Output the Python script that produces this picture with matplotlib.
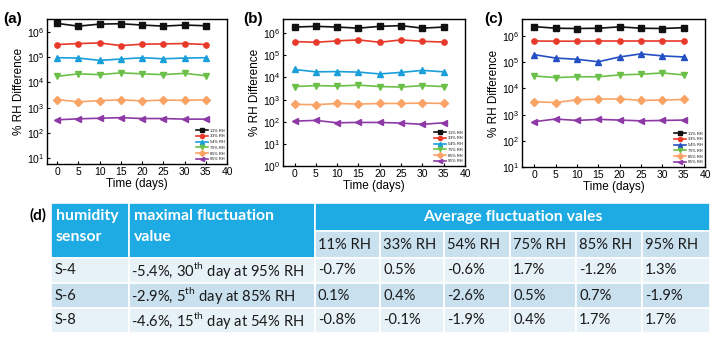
import numpy as np
import matplotlib.pyplot as plt
from matplotlib.patches import Rectangle

plt.rcParams['font.family'] = ['Liberation Sans', 'DejaVu Sans']
plt.rcParams['mathtext.fontset'] = 'custom'
plt.rcParams['mathtext.rm'] = 'Lato'

days = [0, 5, 10, 15, 20, 25, 30, 35]
labels = ['11% RH', '33% RH', '54% RH', '75% RH', '85% RH', '95% RH']

# S-4 sensor
a_11 = [2.2e6, 1.72e6, 2.07e6, 2.14e6, 1.9e6, 1.72e6, 1.9e6, 1.78e6]
a_33 = [3.2e5, 3.5e5, 3.7e5, 2.9e5, 3.3e5, 3.4e5, 3.5e5, 3.2e5]
a_54 = [9.6e4, 9.3e4, 7.5e4, 8.5e4, 9.6e4, 8.7e4, 9.3e4, 9.6e4]
a_75 = [1.75e4, 2.2e4, 2.05e4, 2.4e4, 2.2e4, 2.05e4, 2.3e4, 1.85e4]
a_85 = [2.1e3, 1.7e3, 1.9e3, 2.05e3, 1.85e3, 2.0e3, 1.95e3, 2.05e3]
a_95 = [330, 360, 380, 400, 370, 370, 350, 350]

# S-6 sensor
b_11 = [1.9e6, 2.05e6, 1.9e6, 1.7e6, 2.05e6, 2.2e6, 1.7e6, 1.9e6]
b_33 = [4.2e5, 3.9e5, 4.5e5, 5.0e5, 3.9e5, 5.0e5, 4.3e5, 4.0e5]
b_54 = [2.3e4, 1.8e4, 1.85e4, 1.75e4, 1.45e4, 1.7e4, 2.1e4, 1.8e4]
b_75 = [3.9e3, 4.3e3, 4.1e3, 4.5e3, 3.9e3, 3.7e3, 4.3e3, 3.9e3]
b_85 = [610, 590, 670, 630, 670, 670, 700, 670]
b_95 = [107, 115, 90, 93, 93, 87, 76, 90]

# S-8 sensor
c_11 = [2.3e6, 2.0e6, 1.95e6, 2.0e6, 2.25e6, 2.0e6, 1.95e6, 2.1e6]
c_33 = [6.5e5, 6.4e5, 6.4e5, 6.5e5, 6.5e5, 6.5e5, 6.5e5, 6.5e5]
c_54 = [1.95e5, 1.45e5, 1.3e5, 1.05e5, 1.6e5, 2.1e5, 1.75e5, 1.6e5]
c_75 = [3.0e4, 2.6e4, 2.8e4, 2.8e4, 3.3e4, 3.5e4, 3.9e4, 3.3e4]
c_85 = [3.1e3, 2.9e3, 3.7e3, 3.9e3, 4.0e3, 3.5e3, 3.6e3, 3.8e3]
c_95 = [540, 680, 600, 660, 620, 580, 600, 620]

# table (d)
sensors = ['S-4', 'S-6', 'S-8']
max_fluct = ['-5.4%, 30$^{\\rm th}$ day at 95% RH',
             '-2.9%, 5$^{\\rm th}$ day at 85% RH',
             '-4.6%, 15$^{\\rm th}$ day at 54% RH']
avg_fluct = [['-0.7%', '0.5%', '-0.6%', '1.7%', '-1.2%', '1.3%'],
             ['0.1%', '0.4%', '-2.6%', '0.5%', '0.7%', '-1.9%'],
             ['-0.8%', '-0.1%', '-1.9%', '0.4%', '1.7%', '1.7%']]

W, H = 726, 343
fig = plt.figure(figsize=(W / 100, H / 100), dpi=100)

def px_axes(l, t, r, b):
    return fig.add_axes([l / W, 1 - b / H, (r - l) / W, (b - t) / H])

markers = ['s', 'o', '^', 'v', 'D', '<']
cols_ab = ['#111111', '#e8392a', '#1a9fd9', '#6cc04a', '#f9a466', '#8e3aa6']
cols_c = ['#111111', '#e8392a', '#2450c4', '#6cc04a', '#f9a466', '#8e3aa6']

panels = [
    ('(a)', (47, 19, 227, 164), [a_11, a_33, a_54, a_75, a_85, a_95], (5.8, 3.3e6), (-2.4, 40), cols_ab, 3),
    ('(b)', (283, 19, 465, 166), [b_11, b_33, b_54, b_75, b_85, b_95], (1, 4.4e6), (-2.7, 40), cols_ab, 243),
    ('(c)', (522, 19, 705, 167), [c_11, c_33, c_54, c_75, c_85, c_95], (10, 4.5e6), (-2.9, 40), cols_c, 484),
]

for tag, box, series, ylim, xlim, cols, tagx in panels:
    ax = px_axes(*box)
    for s, lab, m, c in zip(series, labels, markers, cols):
        ax.plot(days, s, color=c, marker=m, markersize=3.8, lw=1.2, label=lab)
    ax.set_yscale('log')
    ax.set_ylim(*ylim)
    ax.set_xlim(*xlim)
    ax.set_xticks(range(0, 41, 5))
    ax.tick_params(direction='in', length=2.5, width=0.8, labelsize=7.5, pad=2)
    ax.tick_params(which='minor', length=0)
    for sp in ax.spines.values():
        sp.set_linewidth(1.0)
    ax.set_xlabel('Time (days)', fontsize=8.5, labelpad=1)
    ax.set_ylabel('% RH Difference', fontsize=8.5, labelpad=1)
    ax.legend(loc='lower right', fontsize=2.8, frameon=False, handlelength=3,
              markerscale=0.8, labelspacing=0.45, borderaxespad=0.3, handletextpad=0.4)
    fig.text(tagx / W, 1 - 19 / H, tag, fontsize=11, fontweight='bold', va='center', ha='left')

# table
tx = fig.add_axes([0, 0, 1, 1])
tx.set_xlim(0, W)
tx.set_ylim(H, 0)
tx.axis('off')

head_blue = '#1eaae2'
light = '#e7f1f8'
mid = '#c9e0ef'
tfont = ['Lato', 'DejaVu Sans']
fs = 10.6
hfs = 11.4

def cell(x0, y0, x1, y1, color):
    tx.add_patch(Rectangle((x0, y0), x1 - x0, y1 - y0, facecolor=color,
                           edgecolor='white', lw=1.2))

col_x = [51, 129, 315, 380, 444, 510, 576, 642, 710]
row_y = [203, 231, 258, 283, 308, 333]

cell(col_x[0], row_y[0], col_x[1], row_y[2], head_blue)
cell(col_x[1], row_y[0], col_x[2], row_y[2], head_blue)
cell(col_x[2], row_y[0], col_x[-1], row_y[1], head_blue)
for j in range(6):
    cell(col_x[2 + j], row_y[1], col_x[3 + j], row_y[2], mid)
row_cols = [light, mid, light]
for i in range(3):
    for j in range(8):
        cell(col_x[j], row_y[2 + i], col_x[j + 1], row_y[3 + i], row_cols[i])

hk = dict(color='white', fontsize=hfs, fontweight='bold', va='center', family=tfont)
tx.text(col_x[0] + 5, 216, 'humidity', **hk)
tx.text(col_x[0] + 5, 237, 'sensor', **hk)
tx.text(col_x[1] + 5, 216, 'maximal fluctuation', **hk)
tx.text(col_x[1] + 5, 237, 'value', **hk)
tx.text((col_x[2] + col_x[-1]) / 2, 217, 'Average fluctuation vales', ha='center', **hk)

dk = dict(color='#1a1a1a', fontsize=fs, va='center', family=tfont)
for j, lab in enumerate(labels):
    tx.text(col_x[2 + j] + 3, 245, lab, **dk)
for i in range(3):
    yc = (row_y[2 + i] + row_y[3 + i]) / 2
    tx.text(col_x[0] + 4, yc, sensors[i], **dk)
    tx.text(col_x[1] + 2, yc, max_fluct[i], **dk)
    for j in range(6):
        tx.text(col_x[2 + j] + 3, yc, avg_fluct[i][j], **dk)

tx.text(29, 215, '(d)', fontsize=11, fontweight='bold', va='center', family=tfont)

fig.savefig('out.png', dpi=100)
